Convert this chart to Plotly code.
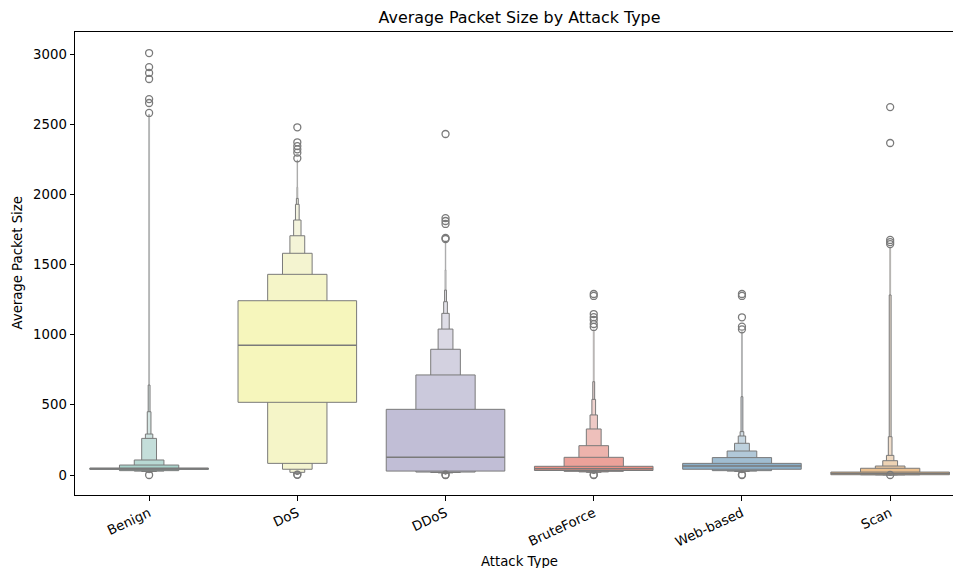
import colorsys
import plotly.graph_objects as go

# ---------------- data ----------------
categories = ["Benign", "DoS", "DDoS", "BruteForce", "Web-based", "Scan"]
base_colors = ["#8dd3c7", "#ffffb3", "#bebada", "#fb8072", "#80b1d3", "#fdb462"]
medians = [45, 924, 126, 44, 64, 10]
# letter values, from the quartiles outwards
upper_values = [
    [50, 71, 107, 261, 292, 451, 641, 2570],
    [1242, 1430, 1580, 1705, 1817, 1929, 1971, 2050, 2245],
    [468, 713, 896, 1040, 1152, 1235, 1318, 1461, 1662],
    [62, 126, 209, 328, 428, 539, 665, 1033],
    [83, 124, 171, 226, 278, 309, 558, 1021],
    [21, 48, 64, 102, 140, 273, 1283, 1618],
]
lower_values = [
    [40, 31, 28, 25, 22, 20, 18, 15],
    [518, 83, 41, 19, 10, 7, 5, 4, 3],
    [28, 21, 18, 15, 12, 10, 8, 6, 5],
    [32, 26, 22, 19, 16, 14, 12, 10],
    [41, 31, 28, 25, 22, 20, 18, 15],
    [2, 1.5, 1.2, 1.0, 0.8, 0.6, 0.4, 0.2],
]
outliers = [
    [3007, 2907, 2865, 2822, 2679, 2651, 2580, 0],
    [2478, 2371, 2344, 2321, 2297, 2257, 1, 3],
    [2430, 1831, 1810, 1789, 1689, 1682, 0, 2],
    [1290, 1276, 1147, 1125, 1105, 1076, 1055, 0, 2],
    [1290, 1276, 1124, 1057, 1038, 0, 2],
    [2622, 2366, 1675, 1660, 1646, 0],
]
y_ticks = [0, 500, 1000, 1500, 2000, 2500, 3000]

# ---------------- styling helpers ----------------
EDGE = "#7a7a7a"
FONT = "DejaVu Sans"


def hex_to_rgb(h):
    h = h.lstrip("#")
    return tuple(int(h[i:i + 2], 16) / 255 for i in (0, 2, 4))


def desaturate(rgb, prop=0.75):
    h, l, s = colorsys.rgb_to_hls(*rgb)
    return colorsys.hls_to_rgb(h, l, s * prop)


def level_color(base, j):
    light = (0.95, 0.95, 0.95)
    t = 2 ** (-j / 3)
    c = [light[i] + t * (base[i] - light[i]) for i in range(3)]
    return "rgb(%d,%d,%d)" % tuple(round(v * 255) for v in c)


fig = go.Figure()
shapes = []
for i, cat in enumerate(categories):
    base = desaturate(hex_to_rgb(base_colors[i]))
    ups = upper_values[i]
    los = lower_values[i]
    n = len(ups)
    # outermost (narrowest) first, quartile box last
    for j in reversed(range(n)):
        w = 0.8 * 0.5 ** j
        shapes.append(dict(
            type="rect", xref="x", yref="y", layer="below",
            x0=i - w / 2, x1=i + w / 2, y0=los[j], y1=ups[j],
            fillcolor=level_color(base, j),
            line=dict(color=EDGE if j < 7 else "#9a9a9a",
                      width=1 if j < 7 else 0.7),
        ))
    shapes.append(dict(
        type="line", xref="x", yref="y", layer="below",
        x0=i - 0.4, x1=i + 0.4, y0=medians[i], y1=medians[i],
        line=dict(color=EDGE, width=1.5),
    ))
    fig.add_trace(go.Scatter(
        x=[i] * len(outliers[i]), y=outliers[i], mode="markers",
        marker=dict(symbol="circle-open", size=7, color=EDGE,
                    line=dict(width=1.3, color=EDGE)),
        showlegend=False, hoverinfo="y",
    ))

fig.update_layout(
    width=954, height=568,
    margin=dict(l=75, r=1, t=32, b=73),
    paper_bgcolor="white", plot_bgcolor="white",
    shapes=shapes,
    showlegend=False,
    font=dict(family=FONT, size=13.25, color="black"),
    title=dict(text="Average Packet Size by Attack Type",
               x=519.5 / 954, xref="container", xanchor="center",
               y=1 - 17 / 568, yref="container", yanchor="middle",
               font=dict(family=FONT, size=15.9, color="black")),
    xaxis=dict(
        range=[-0.5, 5.424], tickmode="array",
        tickvals=list(range(len(categories))), ticktext=categories,
        tickangle=-25, ticks="outside", ticklen=4.5, tickwidth=1,
        tickcolor="black", showline=True, linecolor="black", linewidth=1,
        mirror=True, showgrid=False, zeroline=False,
        tickfont=dict(family=FONT, size=13.25, color="black"),
    ),
    yaxis=dict(
        range=[-142.5, 3157], tickmode="array", tickvals=y_ticks,
        ticks="outside", ticklen=4.5, tickwidth=1, tickcolor="black",
        showline=True, linecolor="black", linewidth=1,
        showgrid=False, zeroline=False,
        tickfont=dict(family=FONT, size=13.25, color="black"),
    ),
    annotations=[
        dict(text="Attack Type", xref="paper", yref="paper",
             x=(519.5 - 75) / 878, y=(495 - 561) / 463,
             xanchor="center", yanchor="middle", showarrow=False,
             font=dict(family=FONT, size=13.25, color="black")),
        dict(text="Average Packet Size", xref="paper", yref="paper",
             x=(17 - 75) / 878, y=0.5, textangle=-90,
             xanchor="center", yanchor="middle", showarrow=False,
             font=dict(family=FONT, size=13.25, color="black")),
    ],
)

fig.write_html(
    "out.html",
    config={"displayModeBar": False},
    post_script="document.body.style.margin='0';document.body.style.overflow='hidden';",
)
